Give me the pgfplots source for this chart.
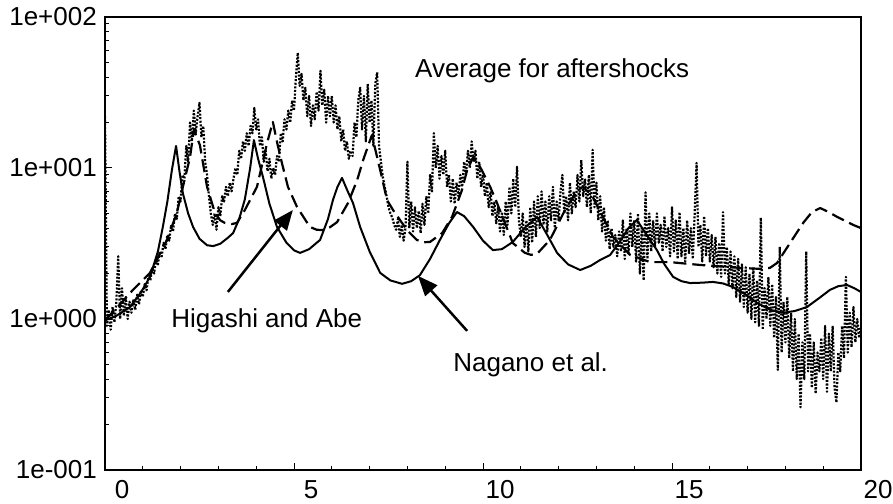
\documentclass[border=0pt]{standalone}
\usepackage{fontspec}
\setmainfont{Liberation Sans}
\usepackage{pgfplots}
\pgfplotsset{compat=1.18}
\usetikzlibrary{arrows.meta,calc}
\begin{document}
\begin{tikzpicture}[font=\fontsize{26}{31}\selectfont]
\begin{axis}[
 scale only axis, width=756pt, height=453pt,
 xmin=0, xmax=20, ymin=0.1, ymax=100, ymode=log,
 axis line style={line width=1.3pt},
 xtick={0,5,10,15,20}, xticklabels={0,5,10,15,20},
 minor xtick={1,2,3,4,6,7,8,9,11,12,13,14,16,17,18,19},
 ytick={0.1,1,10,100}, yticklabels={1e-001,1e+000,1e+001,1e+002},
 minor ytick={0.2,0.3,0.4,0.5,0.6,0.7,0.8,0.9,2,3,4,5,6,7,8,9,20,30,40,50,60,70,80,90},
 tick align=inside, xtick pos=bottom, ytick pos=left,
 major tick length=7pt, minor tick length=4.5pt,
 every tick/.style={black, line width=1pt},
 xticklabel style={anchor=north, inner sep=0pt, yshift=-10pt, xshift=17pt, font=\fontsize{26}{31}\selectfont},
 yticklabel style={anchor=east, inner sep=0pt, xshift=-8pt, font=\fontsize{26}{31}\selectfont},
]
% Average for aftershocks (dotted)
\addplot[black, line width=2.2pt, dash pattern=on 2pt off 1.6pt, line join=round] coordinates {
(0,22) (0.05,0.9) (0.1,1.15) (0.15,0.85) (0.2,1.2) (0.25,0.95) (0.3,1.3) (0.35,2.6) (0.4,1.0) (0.45,1.6) (0.5,1.05) (0.55,1.4) (0.6,1.0) (0.65,1.3) (0.7,1.1) (0.75,1.35) (0.8,1.15) (0.85,1.45) (0.9,1.25) (0.95,1.55)
(1,1.4) (1.05,1.7) (1.1,1.55) (1.15,1.95) (1.2,1.8) (1.25,2.2) (1.3,2.0) (1.35,2.5) (1.4,2.3) (1.45,2.8) (1.5,2.6) (1.55,3.2) (1.6,2.9) (1.65,3.6) (1.7,3.3) (1.75,4.2) (1.8,3.8) (1.85,5.0) (1.9,4.6) (1.95,6.5)
(2,6.0) (2.05,9.0) (2.1,8.5) (2.15,14) (2.2,11) (2.25,20) (2.3,15) (2.35,24) (2.4,17) (2.45,22) (2.5,27) (2.55,16) (2.6,19) (2.65,11) (2.7,9) (2.75,6.5) (2.8,5.0) (2.85,4.2) (2.9,5.0) (2.95,3.9)
(3,5.5) (3.05,4.8) (3.1,6.5) (3.15,6.0) (3.2,7.5) (3.25,6.5) (3.3,8.0) (3.35,7.0) (3.4,8.5) (3.45,10) (3.5,9) (3.55,13) (3.6,11.5) (3.65,15) (3.7,13) (3.75,17) (3.8,14) (3.85,19) (3.9,17) (3.95,25)
(4,18) (4.05,21) (4.1,14) (4.15,16) (4.2,11) (4.25,13) (4.3,9.5) (4.35,11.5) (4.4,8.5) (4.45,10) (4.5,9) (4.55,12) (4.6,11) (4.65,17) (4.7,15) (4.75,21) (4.8,18) (4.85,24) (4.9,20) (4.95,28)
(5,24) (5.05,40) (5.1,58) (5.15,35) (5.2,42) (5.25,28) (5.3,34) (5.35,22) (5.4,30) (5.45,19) (5.5,26) (5.55,21) (5.6,32) (5.65,24) (5.7,44) (5.75,26) (5.8,33) (5.85,20) (5.9,30) (5.95,22)
(6,30) (6.05,20) (6.1,26) (6.15,18) (6.2,22) (6.25,15) (6.3,18) (6.35,13) (6.4,15) (6.45,11.5) (6.5,13) (6.55,12) (6.6,20) (6.65,16) (6.7,28) (6.75,34) (6.8,18) (6.85,30) (6.9,15) (6.95,36)
(7,20) (7.05,28) (7.1,14) (7.15,36) (7.2,43) (7.25,14) (7.3,11) (7.35,8.7) (7.4,7.5) (7.45,6.5) (7.5,5.5) (7.55,5.0) (7.6,4.7) (7.65,4.2) (7.7,3.9) (7.75,4.6) (7.8,3.5) (7.85,4.2) (7.9,3.3) (7.95,4.0)
(8,11) (8.05,4.0) (8.1,6.0) (8.15,3.8) (8.2,5.5) (8.25,4.0) (8.3,5.2) (8.35,3.7) (8.4,5.8) (8.45,4.2) (8.5,6.5) (8.55,5.0) (8.6,9.0) (8.65,7.0) (8.7,17) (8.75,10) (8.8,14) (8.85,8.5) (8.9,12) (8.95,9)
(9,13) (9.05,7.5) (9.1,9) (9.15,6) (9.2,8.5) (9.25,5.8) (9.3,8) (9.35,6.5) (9.4,9) (9.45,7.5) (9.5,11) (9.55,9) (9.6,13) (9.65,10) (9.7,15) (9.75,11) (9.8,13) (9.85,8.5) (9.9,11) (9.95,7.5)
(10,9) (10.05,6.5) (10.1,8) (10.15,5.5) (10.2,7) (10.25,4.8) (10.3,6) (10.35,4.3) (10.4,5.5) (10.45,3.8) (10.5,5) (10.55,3.6) (10.6,6) (10.65,4.2) (10.7,7.5) (10.75,5) (10.8,8.5) (10.85,5.5) (10.9,10.2) (10.95,4.5)
(11,3.5) (11.05,5.0) (11.1,3.0) (11.15,4.5) (11.2,2.8) (11.25,5.5) (11.3,3.2) (11.35,6.0) (11.4,3.5) (11.45,6.5) (11.5,4.0) (11.55,7.0) (11.6,4.2) (11.65,6.0) (11.7,3.8) (11.75,6.5) (11.8,4.5) (11.85,7.5) (11.9,4.0) (11.95,6.0)
(12,4.5) (12.05,7.0) (12.1,9.0) (12.15,5.0) (12.2,6.5) (12.25,4.5) (12.3,8.0) (12.35,5.0) (12.4,7.0) (12.45,5.5) (12.5,9.0) (12.55,6.0) (12.6,11.3) (12.65,6.5) (12.7,8.5) (12.75,5.5) (12.8,9.0) (12.85,5.0) (12.9,13.2) (12.95,5.5)
(13,8.0) (13.05,4.5) (13.1,6.5) (13.15,3.8) (13.2,5.5) (13.25,3.3) (13.3,4.5) (13.35,2.9) (13.4,4.0) (13.45,3.0) (13.5,3.6) (13.55,2.6) (13.6,3.8) (13.65,2.8) (13.7,4.5) (13.75,2.5) (13.8,4.0) (13.85,2.7) (13.9,5.0) (13.95,3.0)
(14,4.5) (14.05,2.4) (14.1,5.0) (14.15,2.0) (14.2,4.0) (14.25,1.8) (14.3,6.9) (14.35,2.5) (14.4,5.0) (14.45,2.8) (14.5,4.5) (14.55,3.0) (14.6,5.0) (14.65,3.2) (14.7,4.2) (14.75,2.8) (14.8,4.8) (14.85,3.0) (14.9,4.0) (14.95,2.6)
(15,5.5) (15.05,2.8) (15.1,4.5) (15.15,2.5) (15.2,5.1) (15.25,2.6) (15.3,4.0) (15.35,2.4) (15.4,4.5) (15.45,2.7) (15.5,4.0) (15.55,2.5) (15.6,5.0) (15.65,10.8) (15.7,3.0) (15.75,4.2) (15.8,2.4) (15.85,4.8) (15.9,2.6) (15.95,4.0)
(16,2.4) (16.05,3.6) (16.1,2.2) (16.15,3.5) (16.2,2.0) (16.25,3.2) (16.3,1.9) (16.35,5.1) (16.4,2.0) (16.45,3.0) (16.5,1.7) (16.55,2.8) (16.6,1.6) (16.65,2.6) (16.7,1.4) (16.75,2.5) (16.8,1.3) (16.85,2.3) (16.9,1.2) (16.95,2.2)
(17,1.1) (17.05,2.0) (17.1,1.0) (17.15,2.2) (17.2,0.95) (17.25,1.8) (17.3,0.9) (17.35,4.7) (17.4,0.85) (17.45,1.6) (17.5,1.0) (17.55,1.9) (17.6,0.9) (17.65,1.7) (17.7,0.75) (17.75,1.4) (17.8,0.46) (17.85,3.0) (17.9,0.6) (17.95,1.3)
(18,0.7) (18.05,1.4) (18.1,0.55) (18.15,1.1) (18.2,0.45) (18.25,1.0) (18.3,0.4) (18.35,0.8) (18.4,0.26) (18.45,0.7) (18.5,0.4) (18.55,2.8) (18.6,0.45) (18.65,0.8) (18.7,0.35) (18.75,0.7) (18.8,0.32) (18.85,0.6) (18.9,0.45) (18.95,0.75)
(19,0.4) (19.05,0.9) (19.1,0.33) (19.15,0.8) (19.2,0.45) (19.25,0.9) (19.3,0.35) (19.35,0.28) (19.4,0.6) (19.45,0.45) (19.5,0.9) (19.55,0.55) (19.6,1.9) (19.65,0.6) (19.7,1.1) (19.75,0.65) (19.8,1.2) (19.85,0.7) (19.9,1.0) (19.95,0.75) (20,0.9)
};
% Higashi and Abe (dashed)
\addplot[black, line width=2.2pt, dash pattern=on 13pt off 6pt, line join=round] coordinates {
(0,0.98) (0.4,1.25) (0.74,1.56) (1.19,2.02) (1.64,3.34) (1.90,5.03) (2.06,7.5) (2.25,11.8) (2.35,17.9) (2.51,14.2) (2.70,7.5) (2.91,5.03) (3.05,4.5) (3.17,4.33) (3.35,4.25) (3.49,4.33) (3.70,5.27) (4.02,7.5) (4.29,14.7) (4.44,20.2) (4.56,14.5) (4.68,10.8) (4.84,7.5) (5.08,5.52) (5.42,4.07) (5.60,3.9) (5.77,3.88) (5.95,4.05) (6.14,4.38) (6.43,5.87) (6.67,8.3) (6.83,11.3) (7.06,16.5) (7.28,9.7) (7.46,6.14) (7.62,5.27) (7.99,3.88) (8.25,3.34) (8.42,3.22) (8.60,3.24) (8.92,3.71) (9.18,4.74) (9.44,7.1) (9.58,9.7) (9.74,11.8) (9.92,10.2) (10.19,7.5) (10.37,5.87) (10.79,3.18) (11.11,2.74) (11.27,2.66) (11.43,2.7) (11.77,3.34) (12.17,5.27) (12.49,7.1) (12.65,7.5) (12.88,6.6) (13.44,3.49) (13.89,2.66) (14.42,2.38) (14.95,2.38) (15.74,2.28) (16.80,2.18) (17.30,2.15) (17.59,2.18) (17.78,2.35) (18.12,3.18) (18.47,4.33) (18.70,5.1) (18.92,5.43) (19.15,5.1) (19.37,4.74) (19.79,4.2) (20,4.0)
};
% Nagano et al. (solid)
\addplot[black, line width=2pt, line join=round] coordinates {
(0,0.98) (0.3,1.05) (0.66,1.20) (0.95,1.5) (1.19,1.90) (1.40,2.8) (1.53,4.07) (1.65,6.0) (1.77,9.7) (1.88,14.0) (1.97,9.5) (2.06,6.8) (2.20,5.0) (2.33,4.07) (2.50,3.4) (2.70,3.08) (2.86,3.04) (3.05,3.15) (3.25,3.45) (3.39,3.71) (3.55,4.6) (3.70,6.2) (3.84,10) (3.94,15.3) (4.05,11.5) (4.18,8.7) (4.35,5.8) (4.55,4.07) (4.80,3.2) (5.00,2.85) (5.16,2.74) (5.40,2.9) (5.69,3.34) (5.90,4.6) (6.03,6.14) (6.15,7.5) (6.27,8.6) (6.40,7.2) (6.56,5.87) (6.75,4.07) (7.00,2.8) (7.28,2.02) (7.55,1.80) (7.86,1.71) (8.10,1.78) (8.33,1.95) (8.60,2.5) (8.86,3.34) (9.10,4.3) (9.31,5.11) (9.50,4.8) (9.74,4.07) (10.00,3.3) (10.26,2.86) (10.50,2.9) (10.79,3.24) (11.10,4.0) (11.43,4.74) (11.70,3.6) (11.96,2.74) (12.25,2.3) (12.57,2.11) (12.85,2.25) (13.10,2.46) (13.36,2.65) (13.60,3.2) (13.85,4.0) (14.07,4.53) (14.30,3.7) (14.60,2.86) (14.80,2.3) (15.03,1.90) (15.25,1.78) (15.48,1.73) (15.80,1.74) (16.08,1.76) (16.35,1.72) (16.61,1.63) (16.95,1.45) (17.25,1.28) (17.60,1.15) (17.94,1.10) (18.25,1.13) (18.57,1.20) (18.90,1.38) (19.18,1.56) (19.40,1.65) (19.63,1.68) (19.82,1.60) (20,1.51)
};
\node[anchor=base west, inner sep=0pt] at (axis cs:8.2,39.5) {Average for aftershocks};
\node[anchor=base west, inner sep=0pt] at (axis cs:1.75,0.885) {Higashi and Abe};
\node[anchor=base west, inner sep=0pt] at (axis cs:9.21,0.446) {Nagano et al.};
\draw[line width=2.5pt, -{Triangle[length=20pt,width=16pt]}] (axis cs:3.25,1.51) -- (axis cs:4.97,5.27);
\draw[line width=2.5pt, -{Triangle[length=20pt,width=16pt]}] (axis cs:9.58,0.834) -- (axis cs:8.28,1.93);
\end{axis}
\pgfresetboundingbox
\path[use as bounding box] ($(current axis.south west)+(-105pt,-34pt)$) rectangle ($(current axis.north east)+(32pt,17pt)$);
\end{tikzpicture}
\end{document}
